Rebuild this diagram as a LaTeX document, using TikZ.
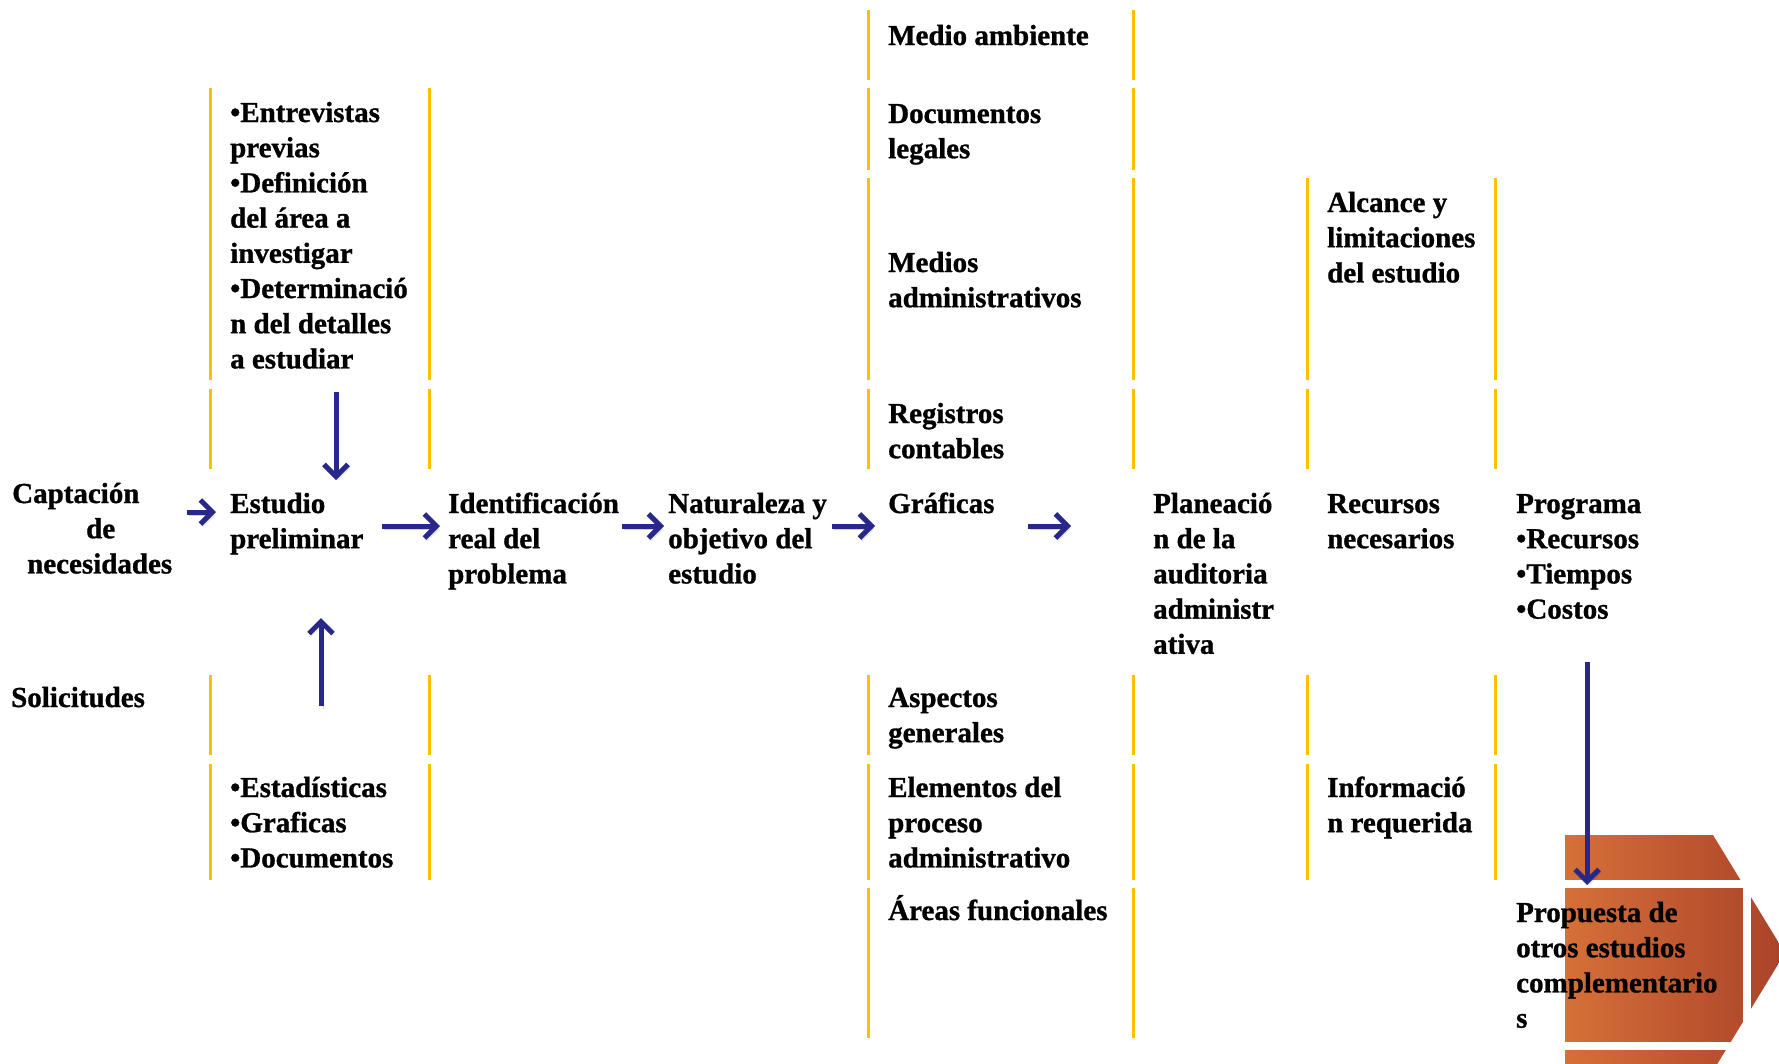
\documentclass[tikz,border=0pt]{standalone}
\usepackage{fontspec}
\setmainfont{Liberation Serif}[BoldFeatures={FakeBold=1}]
\usetikzlibrary{arrows.meta}
\definecolor{gold}{RGB}{255,192,0}
\definecolor{arrblue}{RGB}{40,40,138}
\definecolor{orL}{RGB}{214,112,56}
\definecolor{orR}{RGB}{170,66,42}
\newcommand\tb[1]{\begin{tabular}[t]{@{}l@{}}#1\end{tabular}}
\tikzset{
  txt/.style={anchor=base west, inner sep=0pt, font=\fontsize{29}{35.2}\selectfont\bfseries},
  ybar/.style={draw=gold, line width=3pt},
  arr/.style={draw=arrblue, line width=5pt,
    -{Straight Barb[length=12pt,width=24pt]},
    preaction={draw=black, opacity=0.18, transform canvas={shift={(2pt,-3pt)}}}},
}
\begin{document}
\begin{tikzpicture}[x=1pt,y=-1pt]
\useasboundingbox (0,0) rectangle (1779,1063);
% orange chevron
\shade[left color=orL, right color=orR] (1565,835) -- (1713,835) -- (1785,953) -- (1713,1071) -- (1565,1071) -- cycle;
\draw[white, line width=8pt] (1505,884) rectangle (1747,1046);
% yellow separators
\foreach \x in {210,429}{
  \foreach \a/\b in {88/380,389/469,675/755,764/880}{\draw[ybar] (\x,\a) -- (\x,\b);}}
\foreach \x in {868,1133}{
  \foreach \a/\b in {10/80,88/170,178/380,389/469,675/755,764/880,888/1038}{\draw[ybar] (\x,\a) -- (\x,\b);}}
\foreach \x in {1307,1495}{
  \foreach \a/\b in {178/380,389/469,675/755,764/880}{\draw[ybar] (\x,\a) -- (\x,\b);}}
% texts
\node[txt] (entrev) at (230,122) {\tb{•Entrevistas\\previas\\•Definición\\del área a\\investigar\\•Determinació\\n del detalles\\a estudiar}};
\node[txt] (medio) at (888,45) {\tb{Medio ambiente}};
\node[txt] (docs) at (888,123) {\tb{Documentos\\legales}};
\node[txt] (medios) at (888,272) {\tb{Medios\\administrativos}};
\node[txt] (alcance) at (1327,212) {\tb{Alcance y\\limitaciones\\del estudio}};
\node[txt] (regis) at (888,423) {\tb{Registros\\contables}};
\node[txt] (capt) at (12,503) {\tb{Captación\\\hspace*{74pt}de\\\hspace*{15pt}necesidades}};
\node[txt] (estudio) at (230,513) {\tb{Estudio\\preliminar}};
\node[txt] (ident) at (448,513) {\tb{Identificación\\real del\\problema}};
\node[txt] (natur) at (668,513) {\tb{Naturaleza y\\objetivo del\\estudio}};
\node[txt] (graf) at (888,513) {\tb{Gráficas}};
\node[txt] (plan) at (1153,513) {\tb{Planeació\\n de la\\auditoria\\administr\\ativa}};
\node[txt] (recur) at (1327,513) {\tb{Recursos\\necesarios}};
\node[txt] (prog) at (1516,513) {\tb{Programa\\•Recursos\\•Tiempos\\•Costos}};
\node[txt] (solic) at (11,707) {\tb{Solicitudes}};
\node[txt] (aspect) at (888,707) {\tb{Aspectos\\generales}};
\node[txt] (estad) at (230,797) {\tb{•Estadísticas\\•Graficas\\•Documentos}};
\node[txt] (elem) at (888,797) {\tb{Elementos del\\proceso\\administrativo}};
\node[txt] (info) at (1327,797) {\tb{Informació\\n requerida}};
\node[txt] (areas) at (888,920) {\tb{Áreas funcionales}};
\node[txt] (prop) at (1516,922) {\tb{Propuesta de\\otros estudios\\complementario\\s}};
% arrow end points
\coordinate (a1s) at (187,512); \coordinate (a1e) at (216,512);
\coordinate (a2s) at (382,526); \coordinate (a2e) at (440,526);
\coordinate (a3s) at (622,526); \coordinate (a3e) at (664,526);
\coordinate (a4s) at (832,526); \coordinate (a4e) at (875,526);
\coordinate (a5s) at (1028,526); \coordinate (a5e) at (1071,526);
\coordinate (a6s) at (336,392); \coordinate (a6e) at (336,480);
\coordinate (a7s) at (321,706); \coordinate (a7e) at (321,618);
\coordinate (a8s) at (1587,662); \coordinate (a8e) at (1587,885);
\draw[arr] (a1s) -- (a1e);
\draw[arr] (a2s) -- (a2e);
\draw[arr] (a3s) -- (a3e);
\draw[arr] (a4s) -- (a4e);
\draw[arr] (a5s) -- (a5e);
\draw[arr] (a6s) -- (a6e);
\draw[arr] (a7s) -- (a7e);
\draw[arr] (a8s) -- (a8e);
\end{tikzpicture}
\end{document}
